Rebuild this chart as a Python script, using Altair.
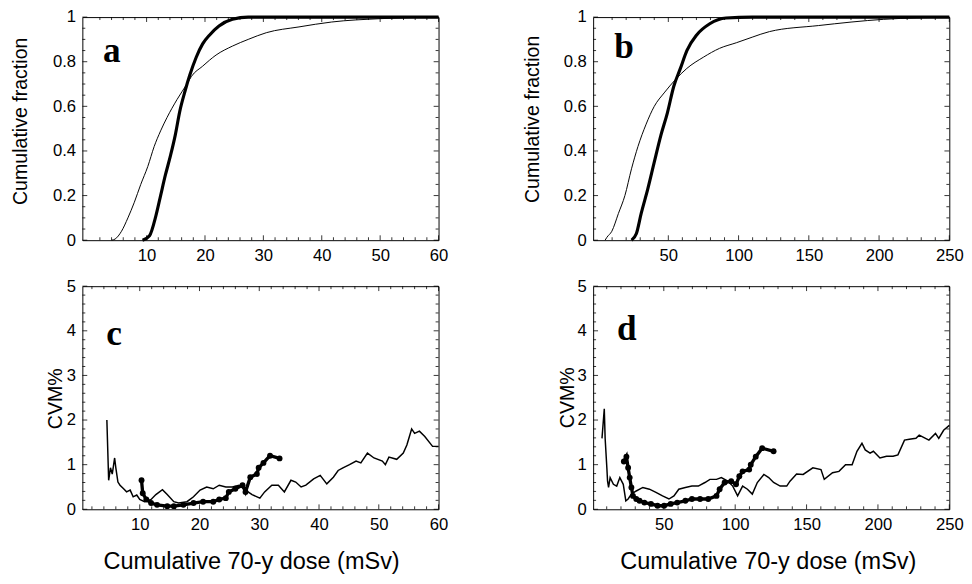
import altair as alt
import pandas as pd

# ---------------- data ----------------
# panel a : cumulative fraction vs dose (0-60 mSv)
a_thin_x = [4.0, 4.6, 5.7, 6.8, 7.9, 9.0, 10.2, 11.3, 12.4, 13.5, 15.2, 16.9, 17.7, 19.6, 21.9, 24.7, 27.4, 30.5, 36.1, 41.7, 50.0, 60.0]
a_thin_y = [0.0, 0.005, 0.04, 0.10, 0.17, 0.25, 0.33, 0.42, 0.49, 0.55, 0.63, 0.70, 0.735, 0.78, 0.83, 0.87, 0.90, 0.93, 0.956, 0.978, 0.993, 1.0]
a_thick_x = [9.3, 10.5, 11.6, 12.4, 13.2, 14.1, 14.9, 15.7, 16.6, 17.4, 18.5, 19.6, 20.8, 22.4, 24.7, 27.4, 35.0, 60.0]
a_thick_y = [0.0, 0.02, 0.11, 0.20, 0.29, 0.38, 0.47, 0.58, 0.67, 0.74, 0.82, 0.88, 0.92, 0.96, 0.99, 1.0, 1.0, 1.0]

# panel b : cumulative fraction vs dose (0-250 mSv)
b_thin_x = [5.0, 6.3, 9.8, 14.5, 19.1, 23.8, 28.4, 34.2, 40.0, 47.0, 55.1, 63.2, 74.9, 86.5, 98.4, 109.7, 122.0, 156.8, 203.3, 250.0]
b_thin_y = [0.0, 0.013, 0.04, 0.12, 0.20, 0.32, 0.42, 0.52, 0.60, 0.66, 0.72, 0.77, 0.82, 0.86, 0.885, 0.91, 0.935, 0.962, 0.99, 1.0]
b_thick_x = [23.8, 27.3, 30.7, 35.4, 40.0, 44.7, 49.3, 53.9, 58.6, 63.2, 70.2, 79.5, 91.1, 109.7, 250.0]
b_thick_y = [0.0, 0.03, 0.12, 0.23, 0.35, 0.47, 0.57, 0.69, 0.77, 0.85, 0.92, 0.97, 0.996, 1.0, 1.0]

# panel c : CVM% vs dose (0-60 mSv)
c_thin_x = [4.5, 4.8, 5.1, 5.4, 5.8, 6.0, 6.35, 6.7, 7.3, 7.8, 8.4, 8.9, 9.5, 10.0, 10.8, 11.9, 12.7, 13.8, 14.6, 15.7, 16.5, 17.9,
            19.0, 20.1, 21.2, 22.3, 23.3, 24.4, 25.5, 26.6, 27.7, 28.8, 30.1, 30.9, 32.1, 33.2, 34.2, 35.3, 36.1, 37.0, 37.8, 39.1,
            40.2, 41.3, 42.4, 43.2, 44.0, 45.1, 46.2, 47.0, 48.1, 49.2, 50.6, 51.1, 51.7, 53.0, 54.1, 54.7, 55.5, 56.0, 56.8, 57.7,
            59.0, 60.0]
c_thin_y = [2.0, 0.65, 0.93, 0.79, 1.15, 0.93, 0.61, 0.54, 0.46, 0.39, 0.43, 0.28, 0.32, 0.22, 0.17, 0.22, 0.33, 0.44, 0.33, 0.17, 0.14, 0.17,
            0.28, 0.43, 0.50, 0.46, 0.54, 0.50, 0.50, 0.54, 0.43, 0.33, 0.25, 0.39, 0.54, 0.54, 0.39, 0.65, 0.61, 0.50, 0.54, 0.68,
            0.76, 0.57, 0.72, 0.87, 0.93, 1.00, 1.08, 1.04, 1.26, 1.15, 1.08, 1.00, 1.17, 1.12, 1.26, 1.44, 1.80, 1.70, 1.75, 1.63,
            1.41, 1.41]
c_dot_x = [10.3, 10.5, 11.1, 11.9, 12.9, 14.6, 15.7, 17.3, 19.0, 20.6, 22.3, 23.3, 24.4, 24.9, 26.0, 27.2, 27.7, 28.5, 29.6, 29.9, 30.7, 31.8, 33.4]
c_dot_y = [0.65, 0.36, 0.22, 0.14, 0.10, 0.07, 0.07, 0.10, 0.14, 0.17, 0.17, 0.22, 0.25, 0.39, 0.46, 0.54, 0.39, 0.72, 0.79, 0.93, 1.04, 1.20, 1.14]

# panel d : CVM% vs dose (0-250 mSv)
d_thin_x = [6.7, 8.3, 8.9, 10.1, 10.6, 11.3, 12.4, 14.7, 17.0, 19.2, 21.6, 23.4, 25.0, 27.3, 30.7, 35.3, 39.9, 44.5, 49.1, 53.6, 57.1,
            60.5, 65.1, 69.7, 74.2, 78.8, 82.3, 86.9, 90.3, 94.8, 98.3, 101.7, 105.2, 108.6, 112.0, 115.5, 120.1, 123.5, 126.9, 131.5,
            136.1, 138.4, 143.0, 147.6, 154.4, 160.1, 162.4, 168.2, 172.7, 177.3, 181.9, 185.3, 188.8, 191.1, 194.5, 196.8, 201.4,
            206.0, 210.6, 214.0, 218.6, 222.0, 226.6, 228.9, 235.7, 240.3, 242.6, 246.0, 250.0]
d_thin_y = [1.59, 2.25, 1.59, 0.93, 0.63, 0.49, 0.71, 0.56, 0.52, 0.71, 0.56, 0.19, 0.23, 0.34, 0.41, 0.49, 0.45, 0.38, 0.30, 0.23, 0.30,
            0.45, 0.49, 0.52, 0.52, 0.60, 0.67, 0.67, 0.71, 0.63, 0.52, 0.30, 0.52, 0.45, 0.34, 0.60, 0.78, 0.71, 0.60, 0.52,
            0.52, 0.63, 0.79, 0.78, 0.93, 0.89, 0.67, 0.82, 0.85, 1.00, 1.00, 1.30, 1.48, 1.33, 1.26, 1.30, 1.15,
            1.19, 1.19, 1.22, 1.55, 1.57, 1.59, 1.66, 1.55, 1.70, 1.59, 1.77, 1.88]
d_dot_x = [22.0, 23.8, 25.0, 26.1, 27.3, 28.4, 30.7, 33.0, 36.4, 41.0, 45.6, 50.2, 54.8, 59.4, 65.1, 69.7, 75.4, 81.1, 86.9, 89.1,
           92.6, 97.2, 100.6, 102.9, 105.2, 109.8, 110.9, 114.4, 118.9, 126.9]
d_dot_y = [1.07, 1.18, 0.93, 0.71, 0.49, 0.30, 0.23, 0.19, 0.15, 0.12, 0.08, 0.08, 0.12, 0.15, 0.19, 0.23, 0.23, 0.23, 0.30, 0.45,
           0.60, 0.63, 0.56, 0.74, 0.85, 0.89, 1.00, 1.18, 1.37, 1.30]

# axis ticks / labels
ticks_x60 = [10, 20, 30, 40, 50, 60]
ticks_x250 = [50, 100, 150, 200, 250]
ticks_frac = [0, 0.2, 0.4, 0.6, 0.8, 1]
ticks_cvm = [0, 1, 2, 3, 4, 5]
minor_x60 = [v for v in range(0, 61, 2) if v % 10]
minor_x250 = [v for v in range(0, 251, 10) if v % 50]
minor_frac = [round(i * 0.05, 2) for i in range(21) if i % 4]
minor_cvm = [round(i * 0.2, 1) for i in range(26) if i % 5]

x_title = "Cumulative 70-y dose (mSv)"
y_title_top = "Cumulative fraction"
y_title_bottom = "CVM%"

# ---------------- styling ----------------
W, H = 364, 228
BLACK = "black"
SANS = "Liberation Sans"
SERIF = "Liberation Serif"


def panel(series, xdom, ydom, xticks, yticks, xminor, yminor, letter, lpos,
          ytitle, ytpos, xtitle=None, xtpos=None):
    xs = alt.Scale(domain=xdom, nice=False, zero=False)
    ys = alt.Scale(domain=ydom, nice=False, zero=False)
    xkw = dict(values=xticks, format="~r", ticks=False, domain=False, grid=False,
               labelFont=SANS, labelFontSize=17, labelColor=BLACK, labelPadding=8,
               labelFlush=False, labelOverlap=False)
    if xtitle:
        xkw.update(title=xtitle, titleFont=SANS, titleFontSize=24, titleFontWeight="normal",
                   titleColor=BLACK, titleX=xtpos[0], titleY=xtpos[1], titleBaseline="middle",
                   titleAlign="center")
    else:
        xkw.update(title=None)
    xaxis = alt.Axis(**xkw)
    yaxis = alt.Axis(values=yticks, format="~r", ticks=False, domain=False, grid=False,
                     labelFont=SANS, labelFontSize=17, labelColor=BLACK, labelPadding=7,
                     labelFlush=False, labelOverlap=False,
                     title=ytitle, titleFont=SANS, titleFontSize=20, titleFontWeight="normal",
                     titleColor=BLACK, titleX=ytpos[0], titleY=ytpos[1], titleBaseline="middle",
                     titleAlign="center", titleAngle=270)

    def X(field):
        return alt.X(field, scale=xs, axis=xaxis)

    def Y(field):
        return alt.Y(field, scale=ys, axis=yaxis)

    layers = []
    for xv, yv, style in series:
        df = pd.DataFrame({"dose": xv, "val": yv})
        enc = dict(x=X("dose:Q"), y=Y("val:Q"))
        if style == "thin":
            layers.append(alt.Chart(df).mark_line(color=BLACK, strokeWidth=1.0, interpolate="monotone").encode(**enc))
        elif style == "thick":
            layers.append(alt.Chart(df).mark_line(color=BLACK, strokeWidth=3.2, interpolate="monotone").encode(**enc))
        elif style == "noise":
            layers.append(alt.Chart(df).mark_line(color=BLACK, strokeWidth=1.5).encode(**enc))
        elif style == "dotted":
            layers.append(alt.Chart(df).mark_line(color=BLACK, strokeWidth=3.4).encode(**enc))
            layers.append(alt.Chart(df).mark_circle(color=BLACK, size=36, opacity=1).encode(**enc))

    # inward frame ticks on all four sides
    for vals, L in ((xticks, 5), (xminor, 3)):
        d = pd.DataFrame({"dose": vals})
        base = alt.Chart(d).mark_rule(color=BLACK, strokeWidth=0.8)
        layers.append(base.encode(x=X("dose:Q"), y=alt.value(H), y2=alt.value(H - L)))
        layers.append(base.encode(x=X("dose:Q"), y=alt.value(0), y2=alt.value(L)))
    for vals, L in ((yticks, 5), (yminor, 3)):
        d = pd.DataFrame({"val": vals})
        base = alt.Chart(d).mark_rule(color=BLACK, strokeWidth=0.8)
        layers.append(base.encode(y=Y("val:Q"), x=alt.value(0), x2=alt.value(L)))
        layers.append(base.encode(y=Y("val:Q"), x=alt.value(W), x2=alt.value(W - L)))

    lab = pd.DataFrame({"t": [letter]})
    layers.append(alt.Chart(lab).mark_text(font=SERIF, fontSize=36, fontWeight="bold", color=BLACK,
                                            align="center", baseline="alphabetic")
                  .encode(text="t:N", x=alt.value(lpos[0]), y=alt.value(lpos[1])))
    return alt.layer(*layers).properties(width=W, height=H)


pa = panel([(a_thin_x, a_thin_y, "thin"), (a_thick_x, a_thick_y, "thick")],
           [-1, 60], [0, 1], ticks_x60, ticks_frac, minor_x60, minor_frac,
           "a", (30, 46), y_title_top, (-63.5, 106))
pb = panel([(b_thin_x, b_thin_y, "thin"), (b_thick_x, b_thick_y, "thick")],
           [-3.5, 250], [0, 1], ticks_x250, ticks_frac, minor_x250, minor_frac,
           "b", (31.5, 42), y_title_top, (-61.5, 104))
pc = panel([(c_thin_x, c_thin_y, "noise"), (c_dot_x, c_dot_y, "dotted")],
           [0.4, 60], [0, 5], ticks_x60, ticks_cvm, minor_x60, minor_cvm,
           "c", (32.5, 60), y_title_bottom, (-27.5, 114.5), x_title, (172.5, 54))
pd_ = panel([(d_thin_x, d_thin_y, "noise"), (d_dot_x, d_dot_y, "dotted")],
            [0.5, 250], [0, 5], ticks_x250, ticks_cvm, minor_x250, minor_cvm,
            "d", (34.5, 55), y_title_bottom, (-26.5, 113.5), x_title, (178.5, 54))

chart = alt.concat(pa, pb, pc, pd_, columns=2, spacing={"row": 12, "column": 76}).properties(
    align="each",
    padding={"left": 2, "top": -7, "right": 0, "bottom": 0},
    background="white",
).configure_view(stroke=BLACK, strokeWidth=1)

chart.save("out.html", embed_options={"renderer": "svg", "actions": False})
